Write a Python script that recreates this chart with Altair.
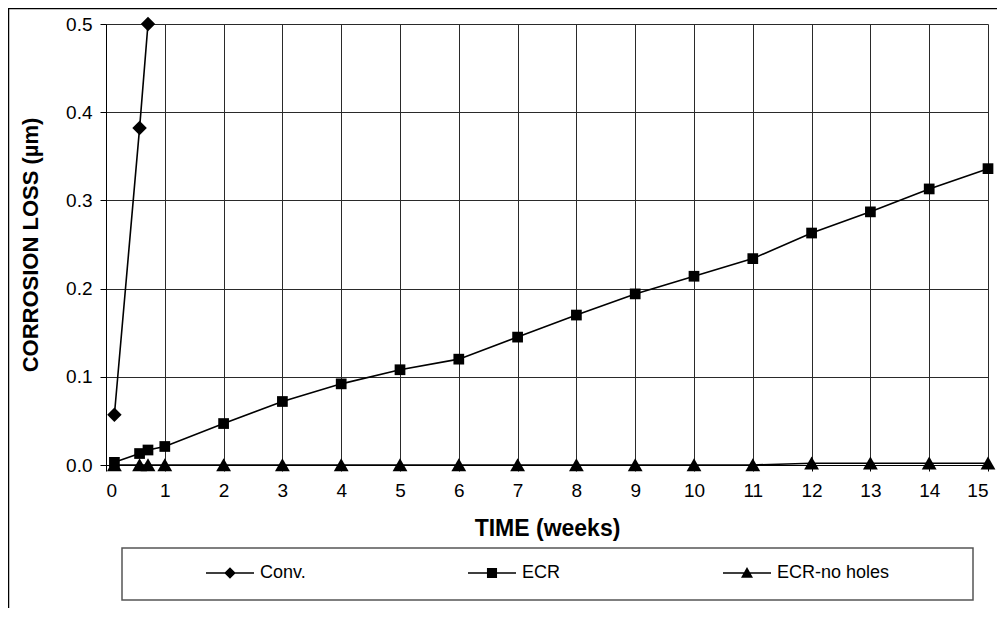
import altair as alt
import pandas as pd

FONT = "Liberation Sans"

series_names = ["Conv.", "ECR", "ECR-no holes"]

conv_weeks = [0.143, 0.571, 0.714]
conv_loss = [0.057, 0.382, 0.500]

ecr_weeks = [0.143, 0.571, 0.714, 1, 2, 3, 4, 5, 6, 7, 8, 9, 10, 11, 12, 13, 14, 15]
ecr_loss = [0.003, 0.013, 0.017, 0.021, 0.047, 0.072, 0.092, 0.108, 0.120, 0.145,
            0.170, 0.194, 0.214, 0.234, 0.263, 0.287, 0.313, 0.336]

nh_weeks = [0.143, 0.571, 0.714, 1, 2, 3, 4, 5, 6, 7, 8, 9, 10, 11, 12, 13, 14, 15]
nh_loss = [0.0, 0.0, 0.0, 0.0, 0.0, 0.0, 0.0, 0.0, 0.0, 0.0,
           0.0, 0.0, 0.0, 0.0, 0.002, 0.002, 0.002, 0.002]

x_ticks = list(range(0, 16))
y_ticks = [0.0, 0.1, 0.2, 0.3, 0.4, 0.5]

rows = []
for name, xs, ys in [("Conv.", conv_weeks, conv_loss),
                     ("ECR", ecr_weeks, ecr_loss),
                     ("ECR-no holes", nh_weeks, nh_loss)]:
    for i, (a, b) in enumerate(zip(xs, ys)):
        rows.append({"series": name, "week": a, "loss": b, "order": i})
df = pd.DataFrame(rows)

W, H = 882, 441

x_enc = alt.X("week:Q", scale=alt.Scale(domain=[0, 15], nice=False, zero=False),
              axis=alt.Axis(values=x_ticks, format="d", title="TIME (weeks)",
                            grid=True, gridColor="#2a2a2a", gridWidth=1,
                            domainColor="#000", tickColor="#000", tickSize=6,
                            labelFontSize=19, labelPadding=10, labelColor="#000",
                            titleFontSize=23, titleFontWeight="bold", titleColor="#000",
                            titleX=W / 2, titleY=63, titleBaseline="middle",
                            titleAlign="center"))
y_enc = alt.Y("loss:Q", scale=alt.Scale(domain=[0, 0.5], nice=False),
              axis=alt.Axis(values=y_ticks, format=".1f", title="CORROSION LOSS (µm)",
                            grid=True, gridColor="#2a2a2a", gridWidth=1,
                            domainColor="#000", tickColor="#000", tickSize=6,
                            labelFontSize=19, labelPadding=8, labelColor="#000",
                            titleFontSize=22, titleFontWeight="bold", titleColor="#000",
                            titleAngle=270, titleX=-76, titleY=H / 2,
                            titleBaseline="middle", titleAlign="center"))

lines = alt.Chart(df).mark_line(color="#000", strokeWidth=1.6).encode(
    x=x_enc, y=y_enc, detail="series:N", order="order:Q"
)

# marker shapes (unit coordinates) and areas per series
marker_paths = {
    "Conv.": ("M0,-1L1,0L0,1L-1,0Z", 210),
    "ECR": ("M-1,-1L1,-1L1,1L-1,1Z", 115),
    "ECR-no holes": ("M0,-0.9L1,0.85L-1,0.85Z", 220),
}

point_layers = []
for name in series_names:
    path, area = marker_paths[name]
    point_layers.append(
        alt.Chart(df).transform_filter(alt.datum.series == name).mark_point(
            filled=True, color="#000", opacity=1, shape=path, size=area
        ).encode(x="week:Q", y="loss:Q")
    )

# legend symbols: a thin filled bar (the line) plus the marker, in unit coordinates
leg_paths = [
    "M-1,-0.033L1,-0.033L1,0.033L-1,0.033ZM0,-0.24L0.24,0L0,0.24L-0.24,0Z",
    "M-1,-0.033L1,-0.033L1,0.033L-1,0.033ZM-0.21,-0.21L0.21,-0.21L0.21,0.21L-0.21,0.21Z",
    "M-1,-0.033L1,-0.033L1,0.033L-1,0.033ZM0,-0.25L0.25,0.2L-0.25,0.2Z",
]

legend_layer = alt.Chart(df).transform_filter("false").mark_point(
    filled=True, color="#000", opacity=1
).encode(
    x="week:Q", y="loss:Q",
    shape=alt.Shape("series:N",
                    scale=alt.Scale(domain=series_names, range=leg_paths),
                    legend=alt.Legend(title=None, orient="none", direction="horizontal",
                                      columns=3, legendX=100, legendY=525,
                                      symbolSize=2304, symbolFillColor="#000",
                                      symbolStrokeColor="#000", symbolStrokeWidth=0,
                                      symbolOpacity=1,
                                      labelFontSize=18, labelFont=FONT, labelColor="#000",
                                      labelOffset=6, columnPadding=162, padding=0)),
)

one = pd.DataFrame({"k": [0]})
frame = alt.Chart(one).mark_rect(fill=None, stroke="#000", strokeWidth=1.5).encode(
    x=alt.value(-97.5), x2=alt.value(1200), y=alt.value(-15.5), y2=alt.value(800)
)
legend_box = alt.Chart(one).mark_rect(fill="#fff", stroke="#555", strokeWidth=1.5).encode(
    x=alt.value(16), x2=alt.value(867), y=alt.value(524), y2=alt.value(576)
)

chart = alt.layer(frame, legend_box, lines, *point_layers, legend_layer).properties(
    width=W, height=H,
    padding={"left": 98, "top": 16, "right": 9, "bottom": 143},
    autosize=alt.AutoSizeParams(type="none"),
).configure(font=FONT).configure_view(strokeWidth=0).configure_axis(
    labelFont=FONT, titleFont=FONT
)

chart.save("out.html", embed_options={"renderer": "svg", "actions": False})
